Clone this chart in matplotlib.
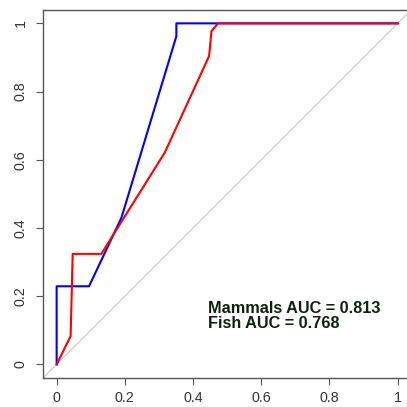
import matplotlib
matplotlib.use("Agg")
import matplotlib.pyplot as plt

# ROC curves (false positive rate, true positive rate)
mammals_fpr = [0.0, 0.0, 0.095, 0.19, 0.351, 0.351, 1.0]
mammals_tpr = [0.0, 0.229, 0.229, 0.43, 0.962, 1.0, 1.0]

fish_fpr = [0.0, 0.041, 0.047, 0.131, 0.317, 0.447, 0.454, 0.473, 1.0]
fish_tpr = [0.0, 0.083, 0.324, 0.324, 0.621, 0.904, 0.977, 1.0, 1.0]

auc_labels = ["Mammals AUC = 0.813", "Fish AUC = 0.768"]
ticks = [0, 0.2, 0.4, 0.6, 0.8, 1]
tick_labels = ["0", "0.2", "0.4", "0.6", "0.8", "1"]

plt.rcParams["font.family"] = ["Liberation Sans", "DejaVu Sans"]

fig = plt.figure(figsize=(4.07, 4.07), dpi=100)
ax = fig.add_axes([43 / 407, 29 / 407, 368.3 / 407, 368.3 / 407])
ax.set_xlim(-0.04, 1.04)
ax.set_ylim(-0.04, 1.04)

# chance line
ax.plot([-0.04, 1.04], [-0.04, 1.04], color="#c8c8c8", linewidth=0.8, zorder=1)

ax.plot(mammals_fpr, mammals_tpr, color="#0000ff", linewidth=1.5, zorder=2)
ax.plot(fish_fpr, fish_tpr, color="#ff0000", linewidth=1.5, zorder=3)

ax.text(0.444, 0.143, "\n".join(auc_labels), fontsize=11.7, fontweight="bold",
        color="#102010", ha="left", va="center", linespacing=1.0)

ax.set_xticks(ticks)
ax.set_xticklabels(tick_labels)
ax.set_yticks(ticks)
ax.set_yticklabels(tick_labels, rotation=90, va="center")
ax.tick_params(axis="both", length=5, width=0.8, color="#555555",
               labelsize=10.3, labelcolor="#333333")
ax.tick_params(axis="x", pad=4.5)
ax.tick_params(axis="y", pad=6)
for side in ax.spines.values():
    side.set_color("#555555")
    side.set_linewidth(1.0)

fig.savefig("out.png", dpi=100)
